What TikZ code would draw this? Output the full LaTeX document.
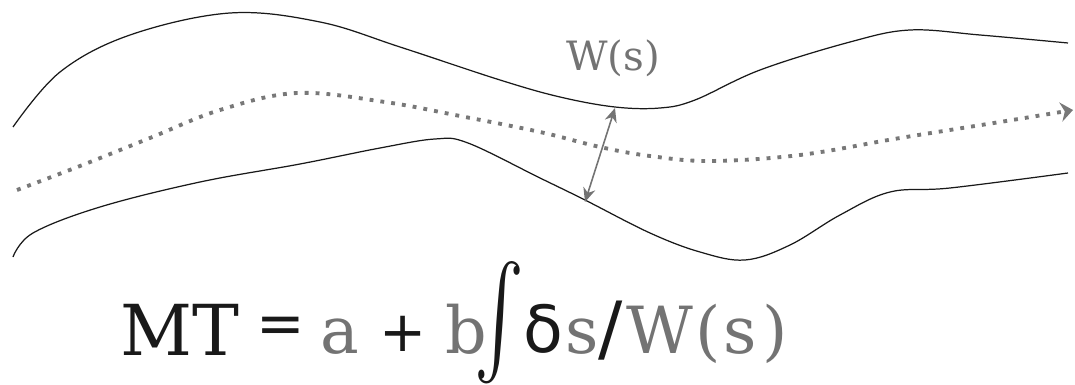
\documentclass[tikz,border=0pt]{standalone}
\usepackage{fontspec}
\usepackage{graphicx}
\usetikzlibrary{arrows.meta}
\newfontfamily\slabfont{DejaVu Serif}
\newfontfamily\greekfont{DejaVu Sans}
\definecolor{inkBlack}{RGB}{25, 25, 25}
\definecolor{midGray}{RGB}{115, 115, 115}
\definecolor{dotGray}{RGB}{120, 120, 120}

\begin{document}
\begin{tikzpicture}[
    x=0.02cm, y=-0.02cm,
    bank/.style={draw=inkBlack, line width=0.7pt},
    centreline/.style={draw=dotGray, line width=2.2pt, dash pattern=on 2.2pt off 4pt, -{Stealth[length=7pt, width=11pt]}},
    gauge/.style={draw=midGray, line width=0.9pt, {Stealth[length=8pt, width=7pt]}-{Stealth[length=8pt, width=7pt]}},
    wlabel/.style={text=midGray, font=\slabfont\fontsize{23}{26}\selectfont, inner sep=0pt},
    term/.style={inner sep=0pt, anchor=base west},
    blackterm/.style={term, text=inkBlack, font=\slabfont\fontsize{40}{44}\selectfont},
    signterm/.style={inner sep=0pt, text=inkBlack, font=\greekfont\fontsize{33}{36}\selectfont},
    grayterm/.style={term, text=midGray, font=\slabfont\fontsize{37}{41}\selectfont}
]
    % Frame (keeps the margins of the picture)
    \useasboundingbox (0,0) rectangle (1075,385);

    % Upper edge of the channel
    \draw[bank] plot[smooth, tension=0.6] coordinates {(13,127) (60,72) (130,35) (230,13) (320,22) (400,47) (500,80) (560,97) (615,107) (660,108) (695,100) (760,70) (850,42) (910,30) (980,35) (1068,43)};

    % Lower edge of the channel
    \draw[bank] plot[smooth, tension=0.6] coordinates {(13,257) (33,233) (100,207) (200,182) (300,164) (380,148) (435,139) (468,143) (540,178) (585,200) (650,233) (700,252) (745,260) (790,245) (840,215) (890,192) (950,188) (1068,173)};

    % Centre line (dotted, with arrow)
    \draw[centreline] plot[smooth, tension=0.6] coordinates {(17,190) (80,166) (150,138) (220,110) (297,93) (385,102) (460,116) (540,132) (600,147) (650,156) (710,161) (800,155) (900,138) (1000,122) (1073,110)};

    % Width gauge
    \coordinate (wtop) at (615,108);
    \coordinate (wbot) at (585,202);
    \draw[gauge] (wtop) -- (wbot);
    \node[wlabel] (wlab) at (613,58) {W(s)};

    % Formula, term by term
    \node[blackterm] (mt) at (120,355) {MT};
    \node[signterm] (eq) at (281,330) {=};
    \node[grayterm] (ta) at (320,353) {a};
    \node[signterm, font=\greekfont\fontsize{32}{36}\selectfont] (plus) at (403,334) {+};
    \node[grayterm] (tb) at (445,353) {b};
    \node[inner sep=0pt, text=inkBlack] (integ) at (499,323) {\resizebox*{1.0cm}{2.45cm}{$\int$}};
    \node[blackterm, font=\greekfont\fontsize{37}{41}\selectfont] (delta) at (523,352) {δ};
    \node[grayterm] (rest) at (565,353) {s{\color{inkBlack}\greekfont\fontsize{41}{44}\selectfont/}\kern2pt W\kern1pt(\kern2pt s\kern3pt)};
\end{tikzpicture}
\end{document}
